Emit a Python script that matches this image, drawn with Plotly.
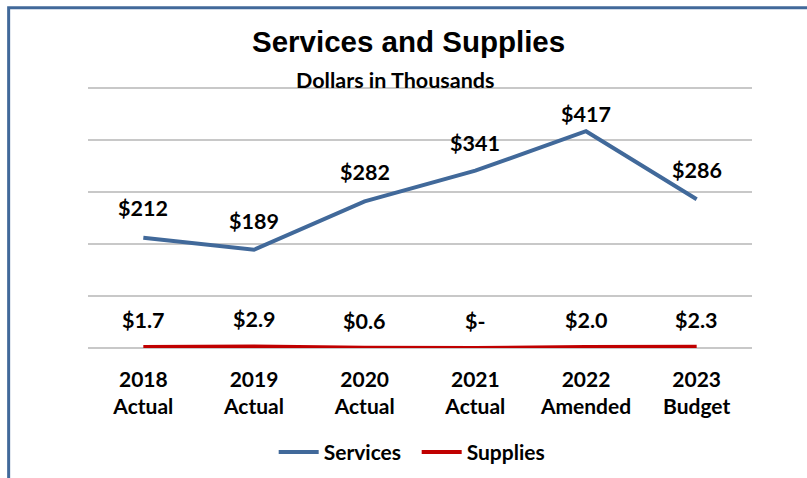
import plotly.graph_objects as go

# Chart data (dollars in thousands)
years = ["2018", "2019", "2020", "2021", "2022", "2023"]
stages = ["Actual", "Actual", "Actual", "Actual", "Amended", "Budget"]
services = [212, 189, 282, 341, 417, 286]
supplies = [1.7, 2.9, 0.6, 0.0, 2.0, 2.3]
y_ticks = [0, 100, 200, 300, 400, 500]

categories = [f"{y}<br>{s}" for y, s in zip(years, stages)]

BLUE = "#41699A"
RED = "#C00000"
SANS = "Lato, Calibri, sans-serif"
LABEL_FONT = dict(family=SANS, size=21.5, color="#000000", weight="bold")


def money_whole(v):
    return f"${v:,.0f}"


def money_one(v):
    return "$-" if v == 0 else f"${v:,.1f}"


fig = go.Figure()
fig.add_trace(go.Scatter(
    x=categories, y=services, mode="lines", name="Services",
    line=dict(color=BLUE, width=4),
))
fig.add_trace(go.Scatter(
    x=categories, y=supplies, mode="lines", name="Supplies",
    line=dict(color=RED, width=4),
))

# value labels above each point; the peak label sits closer to its point
services_shift = [30, 29, 29, 28, 17, 29]
for cat, v, dy in zip(categories, services, services_shift):
    fig.add_annotation(x=cat, y=v, text=money_whole(v), showarrow=False,
                       yshift=dy, font=LABEL_FONT)
for cat, v in zip(categories, supplies):
    fig.add_annotation(x=cat, y=v, text=money_one(v), showarrow=False,
                       yshift=27, font=LABEL_FONT)

# title and subtitle
fig.add_annotation(xref="paper", yref="paper", x=0.483, y=1.176,
                   xanchor="center", yanchor="middle",
                   text="<b>Services and Supplies</b>", showarrow=False,
                   font=dict(family="Liberation Sans, Arial, sans-serif", size=29.5, color="#000000"))
fig.add_annotation(xref="paper", yref="paper", x=0.462, y=1.025,
                   xanchor="center", yanchor="middle",
                   text="<b>Dollars in Thousands</b>", showarrow=False,
                   font=dict(family=SANS, size=21.5, color="#000000"))

# outer frame
fig.add_shape(type="rect", xref="paper", yref="paper",
              x0=-0.1195, x1=1.3, y0=-1.0, y1=1.3035,
              line=dict(color=BLUE, width=3), layer="above")

fig.update_layout(
    width=807, height=478,
    margin=dict(l=88, r=55, t=87, b=130, autoexpand=False),
    paper_bgcolor="white", plot_bgcolor="white",
    showlegend=True,
    legend=dict(orientation="h", x=0.495, xanchor="center", y=-0.4, yanchor="middle",
                font=dict(family=SANS, size=21, color="#000000", weight="bold"),
                itemwidth=40, tracegroupgap=0,
                entrywidth=88, entrywidthmode="pixels"),
    font=dict(family=SANS, size=20, color="#000000"),
)
fig.update_xaxes(
    type="category", range=[-0.5, 5.5], showgrid=False, showline=False,
    ticks="", tickfont=dict(family=SANS, size=21, color="#000000", weight="bold"),
    ticklabelstandoff=17, automargin=False,
)
fig.update_yaxes(
    range=[0, 502], tickvals=y_ticks, showticklabels=False,
    showgrid=True, gridcolor="#C8C8C8", gridwidth=1.5,
    zeroline=True, zerolinecolor="#C8C8C8", zerolinewidth=1.5, showline=False,
    automargin=False,
)

fig.write_html("out.html")
